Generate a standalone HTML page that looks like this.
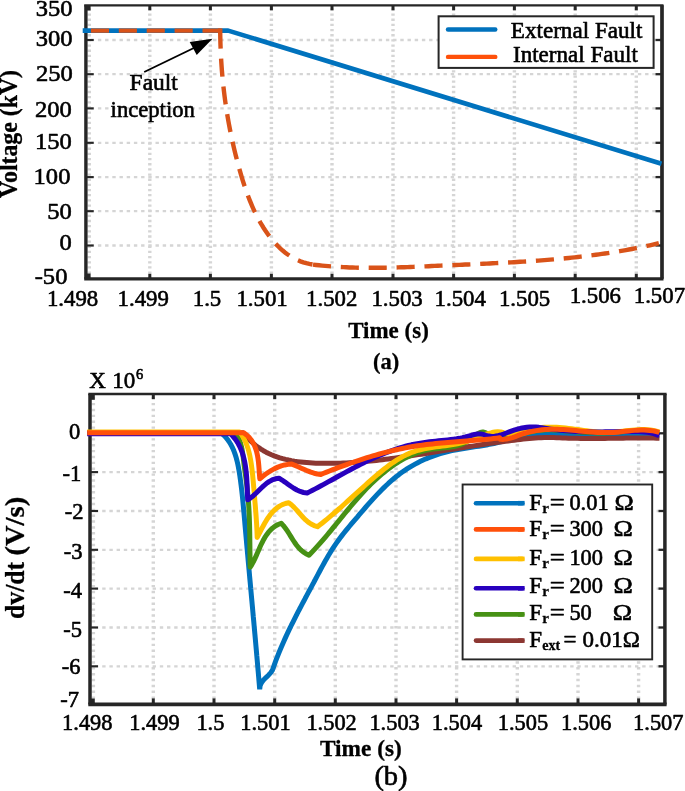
<!DOCTYPE html>
<html lang="en"><head><meta charset="utf-8"><title>Voltage and dv/dt under external and internal faults</title>
<style>html,body{margin:0;padding:0;background:#fff}svg{display:block;will-change:transform}text{font-family:"Liberation Serif", "DejaVu Serif", serif;stroke:#000;stroke-width:0.6px;stroke-linejoin:round}text[font-weight=bold],tspan[font-weight=bold]{stroke-width:0.3px}</style>
</head><body>
<svg width="685" height="791" viewBox="0 0 685 791">
<rect width="685" height="791" fill="#fff"/>
<g id="plot-a">
<g stroke="#d5d5d5" fill="none">
<line x1="89.3" y1="8.3" x2="89.3" y2="278.8" stroke-width="3.4" stroke-dasharray="2.3 2.86"/>
<line x1="149.8" y1="8.3" x2="149.8" y2="278.8" stroke-width="3.4" stroke-dasharray="2.3 2.86"/>
<line x1="210.4" y1="8.3" x2="210.4" y2="278.8" stroke-width="3.4" stroke-dasharray="2.3 2.86"/>
<line x1="271.4" y1="8.3" x2="271.4" y2="278.8" stroke-width="3.4" stroke-dasharray="2.3 2.86"/>
<line x1="332.0" y1="8.3" x2="332.0" y2="278.8" stroke-width="3.4" stroke-dasharray="2.3 2.86"/>
<line x1="393.0" y1="8.3" x2="393.0" y2="278.8" stroke-width="3.4" stroke-dasharray="2.3 2.86"/>
<line x1="453.6" y1="8.3" x2="453.6" y2="278.8" stroke-width="3.4" stroke-dasharray="2.3 2.86"/>
<line x1="514.4" y1="8.3" x2="514.4" y2="278.8" stroke-width="3.4" stroke-dasharray="2.3 2.86"/>
<line x1="575.2" y1="8.3" x2="575.2" y2="278.8" stroke-width="3.4" stroke-dasharray="2.3 2.86"/>
<line x1="636.3" y1="8.3" x2="636.3" y2="278.8" stroke-width="3.4" stroke-dasharray="2.3 2.86"/>
<line x1="90.7" y1="40.0" x2="661.9" y2="40.0" stroke-width="2.3" stroke-dasharray="3.4 3.8"/>
<line x1="90.7" y1="74.2" x2="661.9" y2="74.2" stroke-width="2.3" stroke-dasharray="3.4 3.8"/>
<line x1="90.7" y1="108.4" x2="661.9" y2="108.4" stroke-width="2.3" stroke-dasharray="3.4 3.8"/>
<line x1="90.7" y1="142.8" x2="661.9" y2="142.8" stroke-width="2.3" stroke-dasharray="3.4 3.8"/>
<line x1="90.7" y1="177.1" x2="661.9" y2="177.1" stroke-width="2.3" stroke-dasharray="3.4 3.8"/>
<line x1="90.7" y1="211.2" x2="661.9" y2="211.2" stroke-width="2.3" stroke-dasharray="3.4 3.8"/>
<line x1="90.7" y1="245.5" x2="661.9" y2="245.5" stroke-width="2.3" stroke-dasharray="3.4 3.8"/>
</g>
<g stroke="#262626" fill="none">
<line x1="84.2" y1="5.3" x2="663.5" y2="5.3" stroke-width="2.3"/>
<line x1="84.2" y1="278.9" x2="663.5" y2="278.9" stroke-width="3.1"/>
<line x1="85.9" y1="5.3" x2="85.9" y2="278.8" stroke-width="3.4"/>
<line x1="662.0" y1="5.3" x2="662.0" y2="278.8" stroke-width="3.7"/>
<line x1="149.8" y1="278.8" x2="149.8" y2="273.8" stroke-width="3"/>
<line x1="149.8" y1="5.3" x2="149.8" y2="10.3" stroke-width="3"/>
<line x1="210.4" y1="278.8" x2="210.4" y2="273.8" stroke-width="3"/>
<line x1="210.4" y1="5.3" x2="210.4" y2="10.3" stroke-width="3"/>
<line x1="271.4" y1="278.8" x2="271.4" y2="273.8" stroke-width="3"/>
<line x1="271.4" y1="5.3" x2="271.4" y2="10.3" stroke-width="3"/>
<line x1="332.0" y1="278.8" x2="332.0" y2="273.8" stroke-width="3"/>
<line x1="332.0" y1="5.3" x2="332.0" y2="10.3" stroke-width="3"/>
<line x1="393.0" y1="278.8" x2="393.0" y2="273.8" stroke-width="3"/>
<line x1="393.0" y1="5.3" x2="393.0" y2="10.3" stroke-width="3"/>
<line x1="453.6" y1="278.8" x2="453.6" y2="273.8" stroke-width="3"/>
<line x1="453.6" y1="5.3" x2="453.6" y2="10.3" stroke-width="3"/>
<line x1="514.4" y1="278.8" x2="514.4" y2="273.8" stroke-width="3"/>
<line x1="514.4" y1="5.3" x2="514.4" y2="10.3" stroke-width="3"/>
<line x1="575.2" y1="278.8" x2="575.2" y2="273.8" stroke-width="3"/>
<line x1="575.2" y1="5.3" x2="575.2" y2="10.3" stroke-width="3"/>
<line x1="636.3" y1="278.8" x2="636.3" y2="273.8" stroke-width="3"/>
<line x1="636.3" y1="5.3" x2="636.3" y2="10.3" stroke-width="3"/>
<line x1="85.7" y1="40.0" x2="93.7" y2="40.0" stroke-width="2.1"/>
<line x1="661.9" y1="40.0" x2="655.5" y2="40.0" stroke-width="2.3"/>
<line x1="85.7" y1="74.2" x2="93.7" y2="74.2" stroke-width="2.1"/>
<line x1="661.9" y1="74.2" x2="655.5" y2="74.2" stroke-width="2.3"/>
<line x1="85.7" y1="108.4" x2="93.7" y2="108.4" stroke-width="2.1"/>
<line x1="661.9" y1="108.4" x2="655.5" y2="108.4" stroke-width="2.3"/>
<line x1="85.7" y1="142.8" x2="93.7" y2="142.8" stroke-width="2.1"/>
<line x1="661.9" y1="142.8" x2="655.5" y2="142.8" stroke-width="2.3"/>
<line x1="85.7" y1="177.1" x2="93.7" y2="177.1" stroke-width="2.1"/>
<line x1="661.9" y1="177.1" x2="655.5" y2="177.1" stroke-width="2.3"/>
<line x1="85.7" y1="211.2" x2="93.7" y2="211.2" stroke-width="2.1"/>
<line x1="661.9" y1="211.2" x2="655.5" y2="211.2" stroke-width="2.3"/>
<line x1="85.7" y1="245.5" x2="93.7" y2="245.5" stroke-width="2.1"/>
<line x1="661.9" y1="245.5" x2="655.5" y2="245.5" stroke-width="2.3"/>
</g>
<rect x="87" y="6" width="3.6" height="4.5" fill="#262626"/>
<rect x="87" y="273.5" width="3.6" height="4.5" fill="#262626"/>
<path d="M82.7 30.6 L228.2 30.6 L661.5 163.8" fill="none" stroke="#0072BD" stroke-width="4.6" stroke-linejoin="round"/>
<path d="M90.90 30.60 L222.40 30.60" fill="none" stroke="#D95319" stroke-width="4.4" stroke-dasharray="18.1 9.8"/>
<rect x="218.0" y="28.4" width="4.4" height="2.4" fill="#D95319"/>
<path d="M220.20 30.60 L220.23 33.68 L220.28 36.75 L220.34 39.82 L220.42 42.88 L220.52 45.94 L220.63 48.99 L220.76 52.04 L220.91 55.09 L221.07 58.12 L221.25 61.16 L221.44 64.19 L221.65 67.21 L221.88 70.23 L222.13 73.25 L222.39 76.26 L222.67 79.27 L222.96 82.28 L223.28 85.28 L223.61 88.28 L223.96 91.27 L224.32 94.26 L224.70 97.25 L225.10 100.24 L225.52 103.22 L225.95 106.21 L226.40 109.19 L226.87 112.16 L227.36 115.14 L227.87 118.11 L228.39 121.08 L228.93 124.05 L229.49 127.02 L230.06 129.99 L230.66 132.95 L231.27 135.91 L231.90 138.88 L232.55 141.84 L233.22 144.80 L233.90 147.76 L234.61 150.72 L235.33 153.68 L236.07 156.64 L236.83 159.60 L237.61 162.57 L238.41 165.53 L239.22 168.49 L240.06 171.45 L240.92 174.41 L241.80 177.36 L242.70 180.31 L243.63 183.25 L244.59 186.18 L245.58 189.10 L246.60 192.00 L247.66 194.89 L248.74 197.77 L249.87 200.62 L251.03 203.45 L252.24 206.26 L253.48 209.05 L254.77 211.81 L256.11 214.54 L257.49 217.24 L258.91 219.91 L260.39 222.55 L261.93 225.15 L263.51 227.71 L265.15 230.24 L266.85 232.72 L268.60 235.16 L270.42 237.55 L272.30 239.89 L274.24 242.17 L276.25 244.39 L278.33 246.52 L280.47 248.58 L282.69 250.55 L284.99 252.43 L287.36 254.21 L289.81 255.88 L292.35 257.43 L294.96 258.86 L297.66 260.16 L300.45 261.33 L303.32 262.35 L306.29 263.23 L309.35 263.95 L312.50 264.50" fill="none" stroke="#D95319" stroke-width="4.4" stroke-dasharray="18.1 9.9"/>
<path d="M313.00 264.60 L316.04 264.96 L319.07 265.30 L322.11 265.61 L325.15 265.90 L328.19 266.16 L331.23 266.41 L334.27 266.63 L337.31 266.83 L340.35 267.01 L343.39 267.17 L346.43 267.31 L349.47 267.43 L352.51 267.54 L355.55 267.62 L358.59 267.69 L361.63 267.75 L364.67 267.79 L367.72 267.81 L370.76 267.82 L373.80 267.82 L376.84 267.80 L379.89 267.78 L382.93 267.74 L385.97 267.69 L389.02 267.63 L392.06 267.55 L395.11 267.48 L398.15 267.39 L401.20 267.29 L404.24 267.19 L407.29 267.08 L410.33 266.97 L413.38 266.85 L416.43 266.72 L419.47 266.59 L422.52 266.46 L425.57 266.33 L428.62 266.19 L431.67 266.05 L434.71 265.91 L437.76 265.77 L440.81 265.64 L443.86 265.50 L446.91 265.36 L449.96 265.23 L453.01 265.09 L456.06 264.96 L459.11 264.83 L462.16 264.69 L465.21 264.56 L468.26 264.43 L471.31 264.29 L474.36 264.16 L477.41 264.02 L480.46 263.88 L483.51 263.74 L486.56 263.60 L489.61 263.45 L492.66 263.31 L495.71 263.16 L498.76 263.00 L501.80 262.85 L504.85 262.68 L507.90 262.52 L510.94 262.35 L513.99 262.18 L517.04 262.00 L520.08 261.81 L523.12 261.62 L526.17 261.43 L529.21 261.23 L532.25 261.02 L535.29 260.81 L538.33 260.59 L541.37 260.36 L544.41 260.13 L547.45 259.89 L550.48 259.64 L553.52 259.38 L556.55 259.11 L559.59 258.84 L562.62 258.56 L565.65 258.26 L568.68 257.96 L571.71 257.65 L574.73 257.33 L577.76 257.00 L580.78 256.66 L583.80 256.30 L586.83 255.94 L589.85 255.56 L592.86 255.18 L595.88 254.78 L598.90 254.37 L601.91 253.94 L604.92 253.51 L607.93 253.06 L610.94 252.60 L613.94 252.12 L616.95 251.63 L619.95 251.13 L622.95 250.61 L625.95 250.08 L628.95 249.54 L631.94 248.98 L634.94 248.40 L637.93 247.81 L640.92 247.20 L643.90 246.57 L646.89 245.93 L649.87 245.28 L652.85 244.60 L655.83 243.91 L658.80 243.20" fill="none" stroke="#D95319" stroke-width="4.4" stroke-dasharray="18.1 9.8"/>
<text x="0.00" y="0.00" font-size="23.60" font-weight="normal" text-anchor="end" fill="#000" transform="translate(72.60 15.80) scale(1.0400 1.0000)">350</text>
<text x="0.00" y="0.00" font-size="23.60" font-weight="normal" text-anchor="end" fill="#000" transform="translate(72.60 46.40) scale(1.0400 1.0000)">300</text>
<text x="0.00" y="0.00" font-size="23.60" font-weight="normal" text-anchor="end" fill="#000" transform="translate(72.80 80.90) scale(1.0400 1.0000)">250</text>
<text x="0.00" y="0.00" font-size="23.60" font-weight="normal" text-anchor="end" fill="#000" transform="translate(71.80 116.80) scale(1.0400 1.0000)">200</text>
<text x="0.00" y="0.00" font-size="23.60" font-weight="normal" text-anchor="end" fill="#000" transform="translate(71.80 149.20) scale(1.0400 1.0000)">150</text>
<text x="0.00" y="0.00" font-size="23.60" font-weight="normal" text-anchor="end" fill="#000" transform="translate(70.40 183.60) scale(1.0400 1.0000)">100</text>
<text x="0.00" y="0.00" font-size="23.60" font-weight="normal" text-anchor="end" fill="#000" transform="translate(71.80 219.10) scale(1.0400 1.0000)">50</text>
<text x="0.00" y="0.00" font-size="23.60" font-weight="normal" text-anchor="end" fill="#000" transform="translate(71.80 249.60) scale(1.0400 1.0000)">0</text>
<text x="0.00" y="0.00" font-size="23.60" font-weight="normal" text-anchor="end" fill="#000" transform="translate(67.40 283.80) scale(1.0400 1.0000)">-50</text>
<text x="72.60" y="306.10" font-size="22.80" font-weight="normal" text-anchor="middle" fill="#000">1.498</text>
<text x="143.20" y="306.10" font-size="22.80" font-weight="normal" text-anchor="middle" fill="#000">1.499</text>
<text x="207.00" y="306.10" font-size="22.80" font-weight="normal" text-anchor="middle" fill="#000">1.5</text>
<text x="262.10" y="306.10" font-size="22.80" font-weight="normal" text-anchor="middle" fill="#000">1.501</text>
<text x="331.70" y="306.10" font-size="22.80" font-weight="normal" text-anchor="middle" fill="#000">1.502</text>
<text x="397.10" y="306.10" font-size="22.80" font-weight="normal" text-anchor="middle" fill="#000">1.503</text>
<text x="460.20" y="306.10" font-size="22.80" font-weight="normal" text-anchor="middle" fill="#000">1.504</text>
<text x="524.60" y="306.10" font-size="22.80" font-weight="normal" text-anchor="middle" fill="#000">1.505</text>
<text x="595.30" y="303.20" font-size="22.80" font-weight="normal" text-anchor="middle" fill="#000">1.506</text>
<text x="659.40" y="303.20" font-size="22.80" font-weight="normal" text-anchor="middle" fill="#000">1.507</text>
<text transform="translate(16.7 198.0) rotate(-90) scale(1 1.05)" font-size="24" font-weight="bold" textLength="128" lengthAdjust="spacingAndGlyphs">Voltage (kV)</text>
<text x="348.20" y="338.30" font-size="22.50" font-weight="bold" textLength="80.60" lengthAdjust="spacingAndGlyphs" fill="#000">Time (s)</text>
<text x="373.00" y="369.20" font-size="22.50" font-weight="bold" textLength="26.20" lengthAdjust="spacingAndGlyphs" fill="#000">(a)</text>
<line x1="144.2" y1="72" x2="198" y2="46" stroke="#000" stroke-width="1.9"/>
<polygon points="212.5,38.8 189.7,41.9 196.7,55.1" fill="#000"/>
<text x="129.60" y="90.10" font-size="22.50" font-weight="normal" textLength="48.20" lengthAdjust="spacingAndGlyphs" fill="#000">Fault</text>
<text x="110.60" y="117.10" font-size="22.50" font-weight="normal" textLength="84.20" lengthAdjust="spacingAndGlyphs" fill="#000">inception</text>
<rect x="438.6" y="16.3" width="215" height="51.6" fill="#fff" stroke="#262626" stroke-width="2"/>
<line x1="448" y1="29.5" x2="495.3" y2="29.5" stroke="#0072BD" stroke-width="4.4" stroke-linecap="round"/>
<line x1="448" y1="56.9" x2="495.3" y2="56.9" stroke="#FF500A" stroke-width="4.4" stroke-linecap="round"/>
<text x="510.80" y="37.60" font-size="23.00" font-weight="normal" textLength="131.60" lengthAdjust="spacingAndGlyphs" fill="#000">External Fault</text>
<text x="513.00" y="61.80" font-size="23.00" font-weight="normal" textLength="124.80" lengthAdjust="spacingAndGlyphs" fill="#000">Internal Fault</text>
</g>
<g id="plot-b">
<g stroke="#d5d5d5" fill="none">
<line x1="93.4" y1="397.1" x2="93.4" y2="704.4" stroke-width="3.4" stroke-dasharray="2.4 3.47"/>
<line x1="153.3" y1="397.1" x2="153.3" y2="704.4" stroke-width="3.4" stroke-dasharray="2.4 3.47"/>
<line x1="214.0" y1="397.1" x2="214.0" y2="704.4" stroke-width="3.4" stroke-dasharray="2.4 3.47"/>
<line x1="274.7" y1="397.1" x2="274.7" y2="704.4" stroke-width="3.4" stroke-dasharray="2.4 3.47"/>
<line x1="335.3" y1="397.1" x2="335.3" y2="704.4" stroke-width="3.4" stroke-dasharray="2.4 3.47"/>
<line x1="396.0" y1="397.1" x2="396.0" y2="704.4" stroke-width="3.4" stroke-dasharray="2.4 3.47"/>
<line x1="456.6" y1="397.1" x2="456.6" y2="704.4" stroke-width="3.4" stroke-dasharray="2.4 3.47"/>
<line x1="517.3" y1="397.1" x2="517.3" y2="704.4" stroke-width="3.4" stroke-dasharray="2.4 3.47"/>
<line x1="578.0" y1="397.1" x2="578.0" y2="704.4" stroke-width="3.4" stroke-dasharray="2.4 3.47"/>
<line x1="638.6" y1="397.1" x2="638.6" y2="704.4" stroke-width="3.4" stroke-dasharray="2.4 3.47"/>
<line x1="95.0" y1="433.3" x2="664.9" y2="433.3" stroke-width="2.3" stroke-dasharray="3.4 3.8"/>
<line x1="95.0" y1="472.1" x2="664.9" y2="472.1" stroke-width="2.3" stroke-dasharray="3.4 3.8"/>
<line x1="95.0" y1="511.0" x2="664.9" y2="511.0" stroke-width="2.3" stroke-dasharray="3.4 3.8"/>
<line x1="95.0" y1="549.8" x2="664.9" y2="549.8" stroke-width="2.3" stroke-dasharray="3.4 3.8"/>
<line x1="95.0" y1="588.6" x2="664.9" y2="588.6" stroke-width="2.3" stroke-dasharray="3.4 3.8"/>
<line x1="95.0" y1="627.5" x2="664.9" y2="627.5" stroke-width="2.3" stroke-dasharray="3.4 3.8"/>
<line x1="95.0" y1="666.3" x2="664.9" y2="666.3" stroke-width="2.3" stroke-dasharray="3.4 3.8"/>
</g>
<g stroke="#262626" fill="none">
<line x1="88.3" y1="394.1" x2="666.6" y2="394.1" stroke-width="2.5"/>
<line x1="88.3" y1="704.4" x2="666.6" y2="704.4" stroke-width="3.6"/>
<line x1="90.0" y1="394.1" x2="90.0" y2="704.4" stroke-width="3.5"/>
<line x1="664.9" y1="394.1" x2="664.9" y2="704.4" stroke-width="3.5"/>
<line x1="153.3" y1="704.4" x2="153.3" y2="698.4" stroke-width="3"/>
<line x1="153.3" y1="394.1" x2="153.3" y2="399.1" stroke-width="3"/>
<line x1="214.0" y1="704.4" x2="214.0" y2="698.4" stroke-width="3"/>
<line x1="214.0" y1="394.1" x2="214.0" y2="399.1" stroke-width="3"/>
<line x1="274.7" y1="704.4" x2="274.7" y2="698.4" stroke-width="3"/>
<line x1="274.7" y1="394.1" x2="274.7" y2="399.1" stroke-width="3"/>
<line x1="335.3" y1="704.4" x2="335.3" y2="698.4" stroke-width="3"/>
<line x1="335.3" y1="394.1" x2="335.3" y2="399.1" stroke-width="3"/>
<line x1="396.0" y1="704.4" x2="396.0" y2="698.4" stroke-width="3"/>
<line x1="396.0" y1="394.1" x2="396.0" y2="399.1" stroke-width="3"/>
<line x1="456.6" y1="704.4" x2="456.6" y2="698.4" stroke-width="3"/>
<line x1="456.6" y1="394.1" x2="456.6" y2="399.1" stroke-width="3"/>
<line x1="517.3" y1="704.4" x2="517.3" y2="698.4" stroke-width="3"/>
<line x1="517.3" y1="394.1" x2="517.3" y2="399.1" stroke-width="3"/>
<line x1="578.0" y1="704.4" x2="578.0" y2="698.4" stroke-width="3"/>
<line x1="578.0" y1="394.1" x2="578.0" y2="399.1" stroke-width="3"/>
<line x1="638.6" y1="704.4" x2="638.6" y2="698.4" stroke-width="3"/>
<line x1="638.6" y1="394.1" x2="638.6" y2="399.1" stroke-width="3"/>
<line x1="90.0" y1="433.3" x2="98.0" y2="433.3" stroke-width="2.1"/>
<line x1="664.9" y1="433.3" x2="658.5" y2="433.3" stroke-width="2.3"/>
<line x1="90.0" y1="472.1" x2="98.0" y2="472.1" stroke-width="2.1"/>
<line x1="664.9" y1="472.1" x2="658.5" y2="472.1" stroke-width="2.3"/>
<line x1="90.0" y1="511.0" x2="98.0" y2="511.0" stroke-width="2.1"/>
<line x1="664.9" y1="511.0" x2="658.5" y2="511.0" stroke-width="2.3"/>
<line x1="90.0" y1="549.8" x2="98.0" y2="549.8" stroke-width="2.1"/>
<line x1="664.9" y1="549.8" x2="658.5" y2="549.8" stroke-width="2.3"/>
<line x1="90.0" y1="588.6" x2="98.0" y2="588.6" stroke-width="2.1"/>
<line x1="664.9" y1="588.6" x2="658.5" y2="588.6" stroke-width="2.3"/>
<line x1="90.0" y1="627.5" x2="98.0" y2="627.5" stroke-width="2.1"/>
<line x1="664.9" y1="627.5" x2="658.5" y2="627.5" stroke-width="2.3"/>
<line x1="90.0" y1="666.3" x2="98.0" y2="666.3" stroke-width="2.1"/>
<line x1="664.9" y1="666.3" x2="658.5" y2="666.3" stroke-width="2.3"/>
</g>
<rect x="91" y="395" width="3.8" height="4.8" fill="#262626"/>
<rect x="91" y="698.5" width="3.8" height="4.8" fill="#262626"/>
<path d="M87.20 432.80 L221.00 432.80 L223.34 434.84 L225.47 437.01 L227.39 439.30 L229.13 441.71 L230.69 444.23 L232.08 446.84 L233.33 449.54 L234.44 452.32 L235.42 455.17 L236.30 458.07 L237.07 461.03 L237.76 464.02 L238.37 467.05 L238.92 470.09 L239.42 473.15 L239.89 476.21 L240.33 479.27 L240.74 482.33 L241.14 485.38 L241.51 488.43 L241.86 491.48 L242.19 494.53 L242.51 497.57 L242.81 500.62 L243.11 503.66 L243.39 506.70 L243.67 509.74 L243.94 512.78 L244.21 515.82 L244.47 518.86 L244.74 521.90 L245.00 524.94 L245.27 527.98 L245.54 531.02 L245.81 534.06 L246.08 537.10 L246.35 540.14 L246.62 543.18 L246.90 546.22 L247.17 549.26 L247.44 552.31 L247.72 555.35 L247.99 558.39 L248.27 561.43 L248.55 564.48 L248.82 567.52 L249.10 570.56 L249.38 573.61 L249.65 576.65 L249.93 579.69 L250.21 582.74 L250.49 585.78 L250.76 588.82 L251.04 591.87 L251.32 594.91 L251.60 597.96 L251.88 601.00 L252.15 604.05 L252.43 607.09 L252.71 610.14 L252.99 613.18 L253.26 616.23 L253.54 619.27 L253.82 622.32 L254.09 625.36 L254.37 628.41 L254.64 631.45 L254.92 634.50 L255.19 637.54 L255.46 640.59 L255.73 643.63 L256.01 646.68 L256.28 649.72 L256.55 652.77 L256.81 655.81 L257.08 658.86 L257.35 661.90 L257.62 664.94 L257.88 667.99 L258.14 671.03 L258.41 674.08 L258.67 677.12 L258.93 680.17 L259.19 683.21 L259.44 686.26 L259.70 689.30 L260.11 685.76 L261.48 682.74 L263.52 680.07 L265.94 677.61 L268.46 675.19 L270.77 672.64 L272.60 669.80 L273.58 666.93 L274.59 664.07 L275.63 661.23 L276.70 658.40 L277.80 655.58 L278.92 652.77 L280.07 649.97 L281.24 647.19 L282.44 644.41 L283.66 641.65 L284.90 638.89 L286.15 636.14 L287.43 633.41 L288.73 630.67 L290.04 627.95 L291.36 625.23 L292.71 622.52 L294.06 619.81 L295.43 617.11 L296.81 614.41 L298.19 611.72 L299.59 609.03 L301.00 606.34 L302.41 603.66 L303.83 600.98 L305.25 598.30 L306.68 595.62 L308.11 592.94 L309.54 590.26 L310.98 587.57 L312.41 584.89 L313.84 582.21 L315.27 579.52 L316.69 576.83 L318.12 574.15 L319.55 571.46 L320.98 568.78 L322.43 566.11 L323.89 563.45 L325.37 560.80 L326.88 558.17 L328.40 555.56 L329.96 552.97 L331.54 550.41 L333.17 547.87 L334.83 545.36 L336.53 542.88 L338.28 540.44 L340.06 538.02 L341.88 535.63 L343.73 533.26 L345.62 530.91 L347.52 528.58 L349.45 526.26 L351.39 523.94 L353.35 521.63 L355.31 519.32 L357.29 517.01 L359.26 514.69 L361.24 512.37 L363.23 510.05 L365.23 507.74 L367.24 505.44 L369.26 503.14 L371.30 500.86 L373.35 498.59 L375.42 496.35 L377.51 494.13 L379.62 491.93 L381.76 489.76 L383.92 487.62 L386.11 485.52 L388.33 483.46 L390.58 481.44 L392.86 479.46 L395.18 477.53 L397.53 475.65 L399.92 473.82 L402.35 472.05 L404.83 470.33 L407.34 468.68 L409.90 467.09 L412.49 465.56 L415.12 464.09 L417.79 462.68 L420.49 461.34 L423.22 460.05 L425.99 458.83 L428.78 457.67 L431.60 456.57 L434.44 455.53 L437.31 454.55 L440.19 453.64 L443.10 452.79 L446.03 452.00 L448.97 451.27 L451.93 450.61 L454.90 450.00 L457.89 449.45 L460.88 448.93 L463.88 448.44 L466.88 447.98 L469.89 447.53 L472.90 447.09 L475.91 446.64 L478.92 446.19 L481.92 445.71 L484.91 445.21 L487.90 444.67 L490.88 444.09 L493.84 443.46 L496.80 442.79 L499.75 442.10 L502.69 441.38 L505.63 440.65 L508.56 439.93 L511.50 439.21 L514.43 438.51 L517.37 437.84 L520.31 437.21 L523.26 436.63 L526.22 436.12 L529.19 435.68 L532.17 435.33 L535.16 435.04 L538.16 434.82 L541.16 434.66 L544.17 434.54 L547.19 434.45 L550.21 434.40 L553.23 434.37 L556.26 434.36 L559.29 434.36 L562.31 434.37 L565.34 434.39 L568.37 434.41 L571.40 434.45 L574.43 434.49 L577.46 434.54 L580.49 434.60 L583.53 434.66 L586.56 434.73 L589.59 434.80 L592.63 434.87 L595.66 434.94 L598.70 435.01 L601.73 435.08 L604.77 435.15 L607.80 435.22 L610.84 435.28 L613.87 435.35 L616.90 435.40 L619.94 435.45 L622.97 435.50 L626.00 435.53 L629.03 435.56 L632.07 435.58 L635.10 435.59 L638.12 435.59 L641.15 435.58 L644.18 435.55 L647.21 435.51 L650.23 435.46 L653.26 435.39 L656.28 435.30 L659.30 435.20" fill="none" stroke="#0072BD" stroke-width="5.0" stroke-linejoin="bevel" stroke-linecap="butt"/>
<path d="M87.20 432.80 L243.00 432.80 L244.98 435.15 L247.03 437.42 L249.16 439.61 L251.36 441.72 L253.63 443.73 L255.98 445.63 L258.39 447.43 L260.88 449.12 L263.44 450.69 L266.05 452.14 L268.73 453.48 L271.45 454.71 L274.22 455.84 L277.03 456.86 L279.87 457.79 L282.75 458.63 L285.66 459.38 L288.60 460.05 L291.56 460.64 L294.55 461.16 L297.55 461.60 L300.57 461.99 L303.61 462.32 L306.66 462.59 L309.71 462.81 L312.77 462.99 L315.83 463.13 L318.90 463.23 L321.95 463.30 L325.01 463.34 L328.06 463.36 L331.10 463.34 L334.14 463.30 L337.18 463.24 L340.22 463.15 L343.25 463.03 L346.27 462.89 L349.30 462.73 L352.32 462.55 L355.34 462.34 L358.35 462.12 L361.37 461.88 L364.38 461.61 L367.38 461.33 L370.39 461.04 L373.39 460.72 L376.40 460.40 L379.40 460.05 L382.40 459.70 L385.39 459.33 L388.39 458.95 L391.39 458.55 L394.38 458.15 L397.38 457.73 L400.37 457.31 L403.36 456.88 L406.36 456.44 L409.35 456.00 L412.34 455.55 L415.34 455.09 L418.33 454.63 L421.32 454.17 L424.32 453.70 L427.31 453.23 L430.31 452.76 L433.30 452.28 L436.30 451.81 L439.30 451.33 L442.29 450.85 L445.29 450.37 L448.29 449.89 L451.28 449.41 L454.28 448.93 L457.28 448.46 L460.28 447.98 L463.28 447.51 L466.27 447.03 L469.27 446.57 L472.27 446.10 L475.27 445.64 L478.27 445.18 L481.27 444.73 L484.27 444.28 L487.27 443.83 L490.26 443.40 L493.26 442.96 L496.26 442.54 L499.26 442.12 L502.26 441.71 L505.26 441.31 L508.26 440.91 L511.26 440.52 L514.26 440.15 L517.26 439.78 L520.26 439.42 L523.26 439.07 L526.26 438.74 L529.26 438.44 L532.27 438.17 L535.27 437.94 L538.28 437.75 L541.30 437.63 L544.32 437.55 L547.34 437.53 L550.37 437.56 L553.40 437.62 L556.43 437.70 L559.47 437.80 L562.51 437.91 L565.54 438.03 L568.58 438.14 L571.62 438.23 L574.65 438.31 L577.68 438.37 L580.72 438.42 L583.75 438.45 L586.78 438.47 L589.81 438.47 L592.84 438.47 L595.87 438.46 L598.90 438.44 L601.93 438.41 L604.96 438.38 L607.99 438.35 L611.02 438.31 L614.05 438.26 L617.08 438.22 L620.10 438.18 L623.13 438.14 L626.16 438.10 L629.19 438.07 L632.22 438.04 L635.25 438.01 L638.28 438.00 L641.31 437.99 L644.34 438.00 L647.37 438.01 L650.40 438.04 L653.43 438.08 L656.47 438.13 L659.50 438.20" fill="none" stroke="#8C3732" stroke-width="5.0" stroke-linejoin="round" stroke-linecap="butt"/>
<path d="M87.20 432.80 L235.00 432.80 L236.83 435.24 L238.35 437.84 L239.59 440.56 L240.60 443.39 L241.40 446.32 L242.04 449.33 L242.56 452.39 L242.98 455.50 L243.36 458.62 L243.72 461.76 L244.10 464.88 L244.50 467.99 L244.92 471.09 L245.34 474.19 L245.76 477.27 L246.18 480.36 L246.58 483.44 L246.97 486.52 L247.33 489.60 L247.65 492.68 L247.95 495.77 L248.22 498.86 L248.46 501.96 L248.67 505.05 L248.86 508.15 L249.03 511.25 L249.17 514.35 L249.30 517.45 L249.41 520.56 L249.51 523.67 L249.59 526.77 L249.66 529.88 L249.72 532.99 L249.77 536.10 L249.81 539.21 L249.85 542.32 L249.89 545.44 L249.92 548.55 L249.96 551.66 L249.99 554.77 L250.03 557.88 L250.08 560.99 L250.14 564.09 L250.20 567.20 L251.83 564.57 L253.35 561.79 L254.78 558.87 L256.15 555.87 L257.49 552.80 L258.83 549.70 L260.20 546.61 L261.61 543.56 L263.11 540.58 L264.71 537.70 L266.45 534.97 L268.34 532.40 L270.43 530.04 L272.73 527.92 L275.27 526.06 L278.09 524.51 L281.20 523.30 L283.40 525.67 L285.43 528.23 L287.32 530.94 L289.13 533.75 L290.90 536.61 L292.67 539.46 L294.49 542.26 L296.41 544.96 L298.47 547.51 L300.71 549.86 L303.18 551.96 L305.93 553.75 L309.00 555.20 L311.10 553.05 L313.18 550.87 L315.23 548.66 L317.26 546.43 L319.28 544.18 L321.27 541.90 L323.25 539.61 L325.22 537.31 L327.18 534.99 L329.13 532.66 L331.06 530.31 L332.99 527.96 L334.92 525.60 L336.84 523.24 L338.76 520.88 L340.69 518.51 L342.61 516.15 L344.54 513.79 L346.47 511.44 L348.41 509.09 L350.36 506.75 L352.32 504.43 L354.29 502.12 L356.27 499.82 L358.27 497.54 L360.29 495.28 L362.33 493.04 L364.39 490.82 L366.47 488.63 L368.57 486.46 L370.71 484.33 L372.86 482.22 L375.05 480.15 L377.27 478.11 L379.52 476.11 L381.81 474.14 L384.14 472.22 L386.50 470.34 L388.90 468.51 L391.34 466.72 L393.83 464.98 L396.36 463.29 L398.93 461.67 L401.54 460.11 L404.19 458.62 L406.88 457.22 L409.61 455.90 L412.37 454.67 L415.17 453.54 L418.01 452.51 L420.88 451.60 L423.78 450.80 L426.72 450.12 L429.69 449.57 L432.68 449.12 L435.70 448.75 L438.74 448.42 L441.79 448.10 L444.86 447.78 L447.93 447.43 L450.99 447.00 L454.01 446.47 L456.98 445.79 L459.87 444.93 L462.66 443.84 L465.32 442.49 L467.87 440.91 L470.35 439.17 L472.79 437.35 L475.25 435.53 L477.77 433.80 L480.33 432.44 L482.89 431.89 L485.42 432.58 L487.92 434.41 L490.61 435.75 L493.51 436.29 L496.54 436.64 L499.61 436.89 L502.68 436.96 L505.71 436.84 L508.73 436.56 L511.72 436.14 L514.70 435.61 L517.67 435.00 L520.63 434.32 L523.58 433.62 L526.53 432.91 L529.47 432.21 L532.43 431.57 L535.39 430.99 L538.36 430.51 L541.34 430.16 L544.34 429.94 L547.35 429.85 L550.38 429.86 L553.41 429.96 L556.45 430.14 L559.49 430.37 L562.54 430.63 L565.59 430.93 L568.63 431.22 L571.67 431.51 L574.71 431.77 L577.74 432.01 L580.76 432.23 L583.78 432.42 L586.80 432.59 L589.82 432.72 L592.84 432.82 L595.86 432.89 L598.87 432.93 L601.89 432.93 L604.91 432.89 L607.93 432.80 L610.95 432.68 L613.98 432.52 L617.01 432.31 L620.04 432.08 L623.07 431.84 L626.11 431.61 L629.14 431.38 L632.18 431.19 L635.21 431.04 L638.24 430.95 L641.26 430.92 L644.28 430.98 L647.30 431.14 L650.31 431.40 L653.32 431.79 L656.31 432.32 L659.30 433.00" fill="none" stroke="#469114" stroke-width="5.0" stroke-linejoin="round" stroke-linecap="butt"/>
<path d="M87.20 432.00 L239.50 432.00 L241.39 434.48 L243.06 437.06 L244.52 439.73 L245.80 442.48 L246.92 445.30 L247.88 448.18 L248.72 451.11 L249.45 454.09 L250.08 457.11 L250.64 460.15 L251.14 463.21 L251.58 466.29 L251.99 469.38 L252.35 472.48 L252.68 475.59 L252.98 478.70 L253.27 481.82 L253.53 484.93 L253.80 488.04 L254.06 491.14 L254.32 494.24 L254.58 497.33 L254.84 500.41 L255.10 503.49 L255.35 506.56 L255.60 509.63 L255.84 512.71 L256.07 515.78 L256.28 518.85 L256.48 521.93 L256.67 525.01 L256.83 528.10 L256.98 531.19 L257.10 534.29 L257.20 537.40 L258.65 534.65 L260.12 531.81 L261.62 528.91 L263.18 525.98 L264.80 523.07 L266.50 520.21 L268.31 517.43 L270.25 514.77 L272.32 512.28 L274.55 509.98 L276.96 507.91 L279.56 506.11 L282.37 504.62 L285.41 503.47 L288.70 502.70 L291.40 504.78 L293.91 507.12 L296.29 509.64 L298.60 512.26 L300.88 514.89 L303.21 517.47 L305.64 519.90 L308.22 522.13 L311.02 524.05 L314.09 525.60 L317.50 526.70 L319.94 524.82 L322.35 522.92 L324.73 521.01 L327.09 519.08 L329.43 517.14 L331.75 515.18 L334.06 513.22 L336.34 511.24 L338.62 509.25 L340.88 507.26 L343.13 505.25 L345.37 503.24 L347.61 501.23 L349.84 499.21 L352.07 497.18 L354.30 495.15 L356.54 493.12 L358.77 491.09 L361.02 489.06 L363.27 487.03 L365.53 485.01 L367.80 482.98 L370.09 480.97 L372.39 478.95 L374.70 476.94 L377.04 474.94 L379.40 472.96 L381.78 471.00 L384.19 469.07 L386.62 467.19 L389.08 465.34 L391.56 463.55 L394.08 461.82 L396.63 460.16 L399.22 458.58 L401.84 457.07 L404.49 455.66 L407.19 454.35 L409.92 453.14 L412.70 452.04 L415.52 451.07 L418.38 450.22 L421.28 449.47 L424.22 448.82 L427.19 448.25 L430.18 447.75 L433.19 447.30 L436.22 446.88 L439.26 446.49 L442.31 446.11 L445.35 445.71 L448.40 445.30 L451.43 444.85 L454.46 444.35 L457.46 443.79 L460.45 443.15 L463.41 442.41 L466.33 441.57 L469.23 440.61 L472.09 439.57 L474.94 438.47 L477.77 437.35 L480.60 436.24 L483.42 435.18 L486.26 434.19 L489.10 433.31 L491.97 432.57 L494.87 432.00 L497.79 431.70 L500.68 431.88 L503.50 432.74 L506.28 433.89 L509.08 434.49 L511.93 434.05 L514.82 432.98 L517.73 431.95 L520.65 431.03 L523.59 430.22 L526.55 429.51 L529.51 428.90 L532.49 428.38 L535.47 427.96 L538.47 427.63 L541.47 427.38 L544.48 427.22 L547.49 427.14 L550.50 427.14 L553.52 427.21 L556.53 427.35 L559.55 427.55 L562.57 427.81 L565.58 428.11 L568.60 428.45 L571.62 428.82 L574.64 429.20 L577.66 429.60 L580.68 430.00 L583.70 430.39 L586.73 430.77 L589.75 431.12 L592.78 431.45 L595.80 431.73 L598.83 431.96 L601.86 432.13 L604.89 432.23 L607.92 432.26 L610.95 432.21 L613.99 432.06 L617.02 431.83 L620.06 431.53 L623.09 431.19 L626.13 430.83 L629.16 430.48 L632.20 430.15 L635.23 429.87 L638.25 429.67 L641.28 429.56 L644.29 429.57 L647.31 429.72 L650.32 430.04 L653.32 430.54 L656.31 431.25 L659.30 432.20" fill="none" stroke="#FFC000" stroke-width="5.0" stroke-linejoin="round" stroke-linecap="butt"/>
<path d="M87.20 433.80 L230.50 433.80 L232.76 436.12 L234.80 438.56 L236.63 441.12 L238.27 443.78 L239.72 446.54 L240.99 449.39 L242.11 452.32 L243.07 455.32 L243.90 458.38 L244.61 461.50 L245.20 464.65 L245.69 467.85 L246.09 471.07 L246.42 474.31 L246.68 477.56 L246.89 480.80 L247.05 484.04 L247.19 487.26 L247.31 490.46 L247.43 493.62 L247.56 496.74 L247.70 499.80 L250.62 497.88 L253.35 495.68 L255.96 493.27 L258.51 490.77 L261.03 488.25 L263.60 485.82 L266.27 483.57 L269.08 481.59 L272.11 479.97 L275.39 478.81 L279.00 478.20 L282.04 480.04 L285.00 482.07 L287.93 484.19 L290.87 486.29 L293.85 488.28 L296.94 490.04 L300.16 491.48 L303.57 492.51 L307.20 493.00 L309.88 491.64 L312.56 490.27 L315.24 488.87 L317.91 487.46 L320.57 486.03 L323.24 484.59 L325.90 483.14 L328.56 481.67 L331.22 480.21 L333.89 478.74 L336.55 477.27 L339.21 475.79 L341.88 474.33 L344.55 472.86 L347.23 471.40 L349.90 469.96 L352.59 468.52 L355.28 467.09 L357.97 465.69 L360.68 464.30 L363.39 462.93 L366.11 461.58 L368.84 460.26 L371.58 458.96 L374.33 457.69 L377.09 456.45 L379.87 455.25 L382.65 454.08 L385.46 452.95 L388.27 451.86 L391.10 450.81 L393.95 449.81 L396.81 448.85 L399.69 447.94 L402.58 447.08 L405.50 446.27 L408.43 445.52 L411.38 444.82 L414.36 444.19 L417.35 443.61 L420.37 443.09 L423.39 442.63 L426.43 442.20 L429.48 441.81 L432.52 441.45 L435.57 441.12 L438.61 440.80 L441.65 440.49 L444.67 440.18 L447.68 439.87 L450.67 439.55 L453.63 439.21 L456.59 438.82 L459.55 438.34 L462.51 437.75 L465.49 437.02 L468.48 436.16 L471.49 435.29 L474.48 434.55 L477.44 434.06 L480.36 433.97 L483.22 434.40 L486.02 435.29 L488.85 436.09 L491.75 436.42 L494.69 436.29 L497.65 435.81 L500.60 435.04 L503.52 434.09 L506.38 433.03 L509.18 431.93 L511.98 430.86 L514.82 429.88 L517.72 429.03 L520.69 428.31 L523.70 427.75 L526.74 427.34 L529.79 427.09 L532.84 427.01 L535.87 427.11 L538.89 427.36 L541.89 427.73 L544.89 428.16 L547.88 428.63 L550.87 429.10 L553.87 429.52 L556.87 429.89 L559.88 430.23 L562.89 430.53 L565.91 430.80 L568.93 431.03 L571.96 431.23 L574.98 431.39 L578.01 431.53 L581.05 431.65 L584.08 431.74 L587.12 431.80 L590.15 431.85 L593.19 431.88 L596.23 431.89 L599.27 431.89 L602.31 431.88 L605.35 431.85 L608.39 431.82 L611.42 431.78 L614.46 431.74 L617.49 431.69 L620.53 431.65 L623.56 431.60 L626.58 431.56 L629.61 431.52 L632.63 431.50 L635.64 431.50 L638.65 431.57 L641.65 431.71 L644.64 431.96 L647.61 432.35 L650.56 432.91 L653.50 433.65 L656.41 434.60 L659.30 435.80" fill="none" stroke="#2800BE" stroke-width="5.0" stroke-linejoin="round" stroke-linecap="butt"/>
<path d="M87.20 432.80 L243.70 432.80 L246.62 434.99 L249.13 437.39 L251.25 439.98 L253.04 442.75 L254.51 445.67 L255.70 448.73 L256.66 451.89 L257.41 455.15 L257.99 458.47 L258.43 461.84 L258.77 465.24 L259.04 468.65 L259.28 472.04 L259.52 475.40 L259.80 478.70 L262.57 476.46 L265.44 474.30 L268.41 472.25 L271.46 470.35 L274.62 468.63 L277.87 467.13 L281.21 465.89 L284.65 464.95 L288.18 464.34 L291.80 464.10 L295.00 465.35 L298.16 466.72 L301.30 468.16 L304.44 469.59 L307.61 470.95 L310.81 472.18 L314.08 473.20 L317.44 473.97 L320.90 474.40 L323.74 473.26 L326.59 472.13 L329.44 471.01 L332.30 469.90 L335.16 468.80 L338.03 467.71 L340.90 466.64 L343.78 465.58 L346.66 464.54 L349.55 463.51 L352.44 462.50 L355.34 461.50 L358.24 460.52 L361.15 459.56 L364.06 458.62 L366.98 457.70 L369.90 456.80 L372.83 455.92 L375.77 455.07 L378.70 454.23 L381.65 453.42 L384.60 452.64 L387.56 451.88 L390.52 451.14 L393.49 450.44 L396.46 449.75 L399.44 449.10 L402.43 448.48 L405.42 447.88 L408.41 447.32 L411.42 446.79 L414.43 446.28 L417.44 445.81 L420.46 445.38 L423.49 444.97 L426.52 444.58 L429.56 444.22 L432.60 443.89 L435.64 443.57 L438.69 443.27 L441.74 442.99 L444.79 442.72 L447.85 442.47 L450.90 442.22 L453.96 441.98 L457.02 441.74 L460.08 441.51 L463.14 441.28 L466.20 441.05 L469.25 440.81 L472.31 440.57 L475.37 440.32 L478.42 440.07 L481.47 439.80 L484.52 439.51 L487.56 439.21 L490.60 438.89 L493.64 438.55 L496.67 438.19 L499.70 437.80 L500.30 439.30 L503.42 439.38 L506.47 439.05 L509.45 438.41 L512.38 437.53 L515.30 436.52 L518.21 435.45 L521.13 434.42 L524.07 433.48 L527.04 432.63 L530.02 431.87 L533.03 431.21 L536.05 430.65 L539.08 430.18 L542.12 429.82 L545.16 429.56 L548.22 429.39 L551.28 429.30 L554.35 429.28 L557.43 429.34 L560.51 429.45 L563.59 429.61 L566.68 429.81 L569.78 430.05 L572.87 430.31 L575.97 430.59 L579.07 430.89 L582.18 431.18 L585.28 431.46 L588.39 431.74 L591.49 431.99 L594.60 432.21 L597.70 432.39 L600.81 432.52 L603.91 432.60 L607.01 432.61 L610.10 432.55 L613.19 432.42 L616.28 432.20 L619.37 431.93 L622.45 431.61 L625.53 431.27 L628.60 430.94 L631.67 430.63 L634.75 430.37 L637.82 430.17 L640.89 430.06 L643.96 430.05 L647.02 430.18 L650.09 430.45 L653.16 430.90 L656.23 431.54 L659.30 432.40" fill="none" stroke="#FF500A" stroke-width="5.0" stroke-linejoin="round" stroke-linecap="butt"/>
<text y="388.3" font-size="23"><tspan x="89.2">X</tspan> <tspan x="112.2">10</tspan><tspan x="136.0" dy="-9.4" font-size="14.5">6</tspan></text>
<text x="80.30" y="439.00" font-size="22.50" font-weight="normal" text-anchor="end" fill="#000">0</text>
<text x="81.20" y="480.60" font-size="22.50" font-weight="normal" text-anchor="end" fill="#000">-1</text>
<text x="83.40" y="518.90" font-size="22.50" font-weight="normal" text-anchor="end" fill="#000">-2</text>
<text x="82.60" y="558.80" font-size="22.50" font-weight="normal" text-anchor="end" fill="#000">-3</text>
<text x="82.00" y="598.10" font-size="22.50" font-weight="normal" text-anchor="end" fill="#000">-4</text>
<text x="82.00" y="636.90" font-size="22.50" font-weight="normal" text-anchor="end" fill="#000">-5</text>
<text x="80.60" y="674.20" font-size="22.50" font-weight="normal" text-anchor="end" fill="#000">-6</text>
<text x="79.00" y="707.00" font-size="22.50" font-weight="normal" text-anchor="end" fill="#000">-7</text>
<text x="87.30" y="730.20" font-size="22.40" font-weight="normal" text-anchor="middle" fill="#000">1.498</text>
<text x="154.50" y="730.20" font-size="22.40" font-weight="normal" text-anchor="middle" fill="#000">1.499</text>
<text x="210.40" y="730.20" font-size="22.40" font-weight="normal" text-anchor="middle" fill="#000">1.5</text>
<text x="265.40" y="730.20" font-size="22.40" font-weight="normal" text-anchor="middle" fill="#000">1.501</text>
<text x="331.60" y="730.20" font-size="22.40" font-weight="normal" text-anchor="middle" fill="#000">1.502</text>
<text x="394.60" y="730.20" font-size="22.40" font-weight="normal" text-anchor="middle" fill="#000">1.503</text>
<text x="457.00" y="730.20" font-size="22.40" font-weight="normal" text-anchor="middle" fill="#000">1.504</text>
<text x="523.00" y="730.20" font-size="22.40" font-weight="normal" text-anchor="middle" fill="#000">1.505</text>
<text x="586.20" y="730.20" font-size="22.40" font-weight="normal" text-anchor="middle" fill="#000">1.506</text>
<text x="658.30" y="730.20" font-size="22.40" font-weight="normal" text-anchor="middle" fill="#000">1.507</text>
<text transform="translate(24.0 619.0) rotate(-90) scale(1 1.03)" font-size="27" font-weight="bold"><tspan x="0" textLength="57.2" lengthAdjust="spacingAndGlyphs">dv/dt</tspan> <tspan x="63.4" textLength="58.8" lengthAdjust="spacingAndGlyphs">(V/s)</tspan></text>
<text x="320.00" y="756.10" font-size="22.50" font-weight="bold" textLength="81.70" lengthAdjust="spacingAndGlyphs" fill="#000">Time (s)</text>
<text x="374.40" y="785.30" font-size="27.00" font-weight="normal" textLength="33.20" lengthAdjust="spacingAndGlyphs" fill="#000">(b)</text>
<rect x="462.6" y="484.5" width="189.6" height="174.9" fill="#fff" stroke="#262626" stroke-width="1.9"/>
<line x1="476" y1="503.2" x2="522.2" y2="503.2" stroke="#0072BD" stroke-width="4.6" stroke-linecap="round"/>
<rect x="518" y="500.9" width="6.6" height="4.6" fill="#0072BD"/>
<line x1="476" y1="529.4" x2="522.2" y2="529.4" stroke="#FF500A" stroke-width="4.6" stroke-linecap="round"/>
<rect x="518" y="527.1" width="6.6" height="4.6" fill="#FF500A"/>
<line x1="476" y1="558.9" x2="522.2" y2="558.9" stroke="#FFC000" stroke-width="4.6" stroke-linecap="round"/>
<rect x="518" y="556.6" width="6.6" height="4.6" fill="#FFC000"/>
<line x1="476" y1="588.3" x2="522.2" y2="588.3" stroke="#2800BE" stroke-width="4.6" stroke-linecap="round"/>
<rect x="518" y="586.0" width="6.6" height="4.6" fill="#2800BE"/>
<line x1="476" y1="614.4" x2="522.2" y2="614.4" stroke="#469114" stroke-width="4.6" stroke-linecap="round"/>
<rect x="518" y="612.1" width="6.6" height="4.6" fill="#469114"/>
<line x1="476" y1="640.6" x2="522.2" y2="640.6" stroke="#8C3732" stroke-width="4.6" stroke-linecap="round"/>
<rect x="518" y="638.3" width="6.6" height="4.6" fill="#8C3732"/>
<text y="509.6" font-size="23"><tspan x="529.3">F</tspan><tspan x="542.2" dy="3" font-size="15" font-weight="bold">r</tspan><tspan x="549.8" dy="-3" textLength="15.06" lengthAdjust="spacingAndGlyphs">=</tspan> <tspan x="569.4" font-size="22.4">0.01</tspan> <tspan x="614.6" textLength="19.3" lengthAdjust="spacingAndGlyphs">Ω</tspan></text>
<text y="536.3" font-size="23"><tspan x="529.3">F</tspan><tspan x="542.2" dy="3" font-size="15" font-weight="bold">r</tspan><tspan x="549.8" dy="-3" textLength="15.06" lengthAdjust="spacingAndGlyphs">=</tspan> <tspan x="569.4" font-size="22.4">300</tspan> <tspan x="613.6" textLength="19.3" lengthAdjust="spacingAndGlyphs">Ω</tspan></text>
<text y="564.9" font-size="23"><tspan x="529.3">F</tspan><tspan x="542.2" dy="3" font-size="15" font-weight="bold">r</tspan><tspan x="549.8" dy="-3" textLength="15.06" lengthAdjust="spacingAndGlyphs">=</tspan> <tspan x="569.4" font-size="22.4">100</tspan> <tspan x="613.6" textLength="19.3" lengthAdjust="spacingAndGlyphs">Ω</tspan></text>
<text y="593.0" font-size="23"><tspan x="529.3">F</tspan><tspan x="542.2" dy="3" font-size="15" font-weight="bold">r</tspan><tspan x="549.8" dy="-3" textLength="15.06" lengthAdjust="spacingAndGlyphs">=</tspan> <tspan x="569.4" font-size="22.4">200</tspan> <tspan x="613.6" textLength="19.3" lengthAdjust="spacingAndGlyphs">Ω</tspan></text>
<text y="620.2" font-size="23"><tspan x="529.3">F</tspan><tspan x="542.2" dy="3" font-size="15" font-weight="bold">r</tspan><tspan x="549.8" dy="-3" textLength="15.06" lengthAdjust="spacingAndGlyphs">=</tspan> <tspan x="569.4" font-size="22.4">50</tspan> <tspan x="612.8" textLength="19.3" lengthAdjust="spacingAndGlyphs">Ω</tspan></text>
<text y="647.2" font-size="23"><tspan x="529.3">F</tspan><tspan x="542.2" dy="3" font-size="14" font-weight="bold">ext</tspan> <tspan x="563.4" dy="-3">=</tspan> <tspan x="582.6">0.01Ω</tspan></text>
</g>
</svg>
</body></html>
